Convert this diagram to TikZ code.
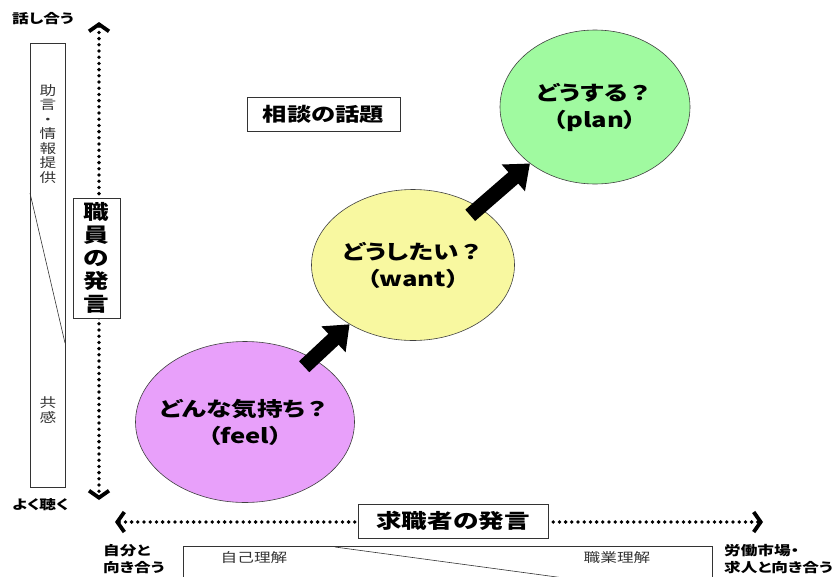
\documentclass[tikz,border=0pt]{standalone}
\usepackage{fontspec}
\setmainfont{Noto Sans CJK JP}[FakeStretch=1.28,RawFeature=+palt]
\newcommand{\fullq}{{\addfontfeature{RawFeature=-palt}？}}
\usetikzlibrary{shapes.geometric,arrows.meta}
\begin{document}
\begin{tikzpicture}[x=1pt,y=-1pt,
  bubble/.style={ellipse,draw=black!75,line width=0.6pt,inner sep=0pt},
  bubbletext/.style={align=center,inner sep=0pt,font=\fontsize{20}{27}\selectfont\bfseries},
  bigarrow/.style={line width=15pt,-{Triangle[length=22pt,width=34pt]},black,shorten <=-12pt},
  dotline/.style={line width=3.8pt,line cap=round,dash pattern=on 0pt off 6.2pt,
    {Straight Barb[length=7pt,width=20pt,line width=3.8pt]}-{Straight Barb[length=7pt,width=20pt,line width=3.8pt]}},
  labelbox/.style={draw=black!80,line width=0.7pt,fill=white,inner sep=0pt},
  axislabel/.style={font=\fontsize{13}{17}\selectfont\bfseries,align=left,anchor=north west,inner sep=0pt},
  thin/.style={draw=black!80,line width=0.6pt},
  smalltext/.style={font=\fontsize{13}{15}\selectfont,text=black!80,inner sep=0pt,align=center}
]
\useasboundingbox (0,0) rectangle (835,576);
\clip (0,0) rectangle (835,576);
% axes
\coordinate (vtop) at (99,22);
\coordinate (vbot) at (99,500);
\coordinate (hleft) at (115,522);
\coordinate (hright) at (763,522);
\draw[dotline] (vtop) -- (vbot);
\draw[dotline] (hleft) -- (hright);
% axis labels
\node[axislabel] (talk) at (12,12) {話し合う};
\node[axislabel] (listen) at (12,498) {よく聴く};
\node[axislabel] (self) at (103,544) {自分と\\向き合う};
\node[axislabel] (market) at (724,544) {労働市場・\\求人と向き合う};
% staff box
\node[labelbox,minimum width=47pt,minimum height=120pt,align=center,
  font=\fontsize{20}{23}\selectfont\bfseries] (staff) at (96.5,258) {職\\員\\の\\発\\言};
% seeker box
\node[labelbox,minimum width=190pt,minimum height=34pt,
  font=\fontsize{20}{24}\selectfont\bfseries] (seeker) at (453,521) {求職者の発言};
% topic box
\node[labelbox,minimum width=153pt,minimum height=34pt,
  font=\fontsize{19}{23}\selectfont\bfseries] (topic) at (323.5,114) {相談の話題};
% left side box
\draw[thin] (30,43) rectangle (65,487);
\draw[thin] (30,193) -- (65,343);
\node[smalltext,font=\fontsize{13}{14.5}\selectfont] (advice) at (48,134) {助\\言\\・\\情\\報\\提\\供};
\node[smalltext,font=\fontsize{13}{15}\selectfont] (empathy) at (48,410) {共\\感};
% bottom box
\draw[thin] (183,546) rectangle (712,600);
\draw[thin] (335,547) -- (579,580);
\node[smalltext] (selfund) at (254,558) {自己理解};
\node[smalltext] (jobund) at (617,558) {職業理解};
% bubbles
\node[bubble,fill={rgb,255:red,232;green,160;blue,250},minimum width=219pt,minimum height=161pt] (feel) at (245,422) {};
\node[bubbletext] (feeltxt) at (feel.center) {どんな気持ち\fullq\\（feel）};
\node[bubble,fill={rgb,255:red,248;green,248;blue,160},minimum width=203pt,minimum height=151pt] (want) at (413,265) {};
\node[bubbletext] (wanttxt) at (want.center) {どうしたい\fullq\\（want）};
\node[bubble,fill={rgb,255:red,160;green,250;blue,160},minimum width=190pt,minimum height=154pt] (plan) at (595,107) {};
\node[bubbletext] (plantxt) at (plan.center) {どうする\fullq\\（plan）};
% arrows
\draw[bigarrow] (feel) -- (want);
\draw[bigarrow] (want) -- (plan);
\end{tikzpicture}
\end{document}
